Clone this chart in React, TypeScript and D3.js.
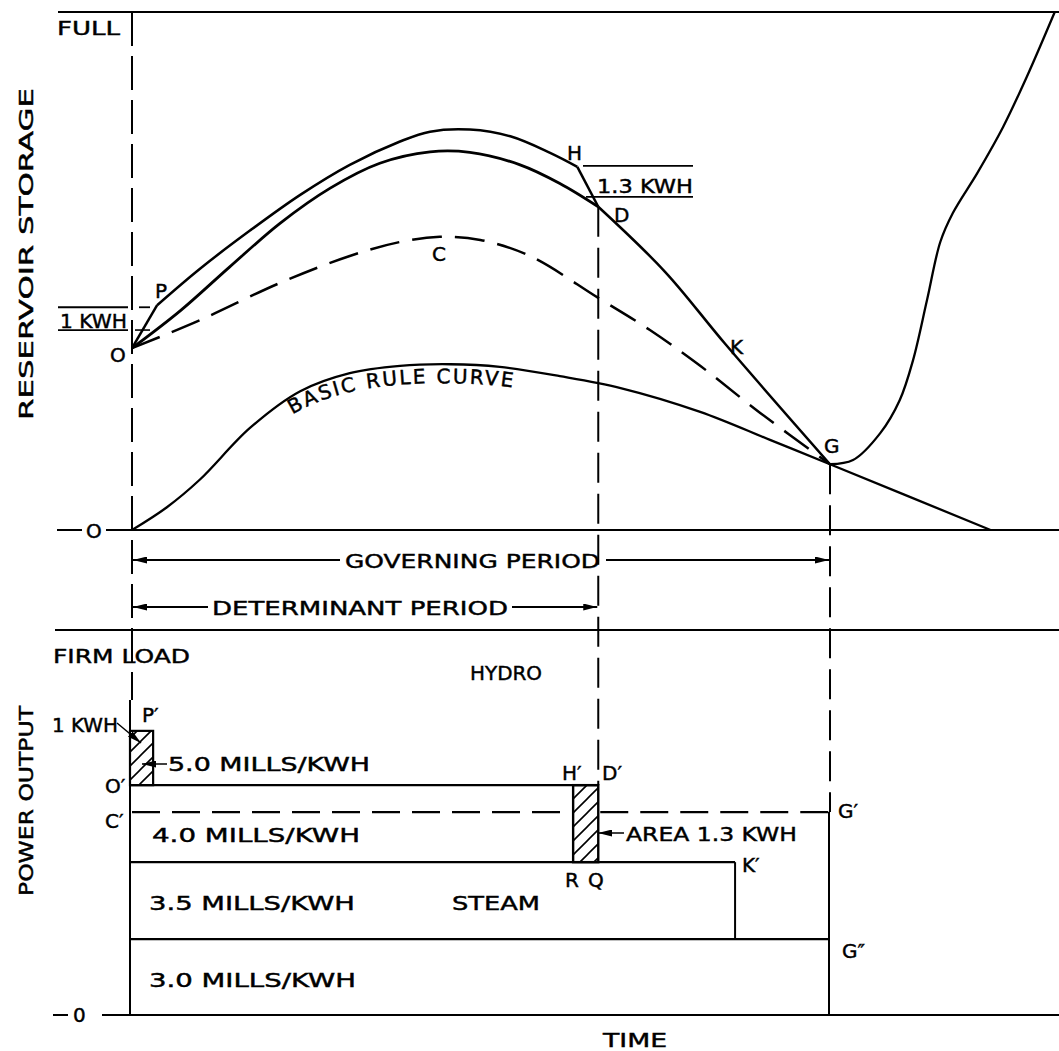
import React, { useEffect, useRef } from 'react';
import * as d3 from 'd3';

// time: O = 0, G = 10 ; storage: 0 = empty, 100 = full ; power: 100 = firm load
const keyTimes = { O: 0, P: 0.36, H: 6.38, Hp: 6.32, D: 6.68, K: 8.64, G: 10 };

const highRise: [number, number][] = [[0, 35.1], [0.36, 43.4]];
const highCurve: [number, number][] = [
  [0.36, 43.4], [0.97, 50.4], [1.69, 57.8], [2.41, 64.7], [3.12, 70.5], [3.84, 75.0],
  [4.27, 76.9], [4.84, 77.3], [5.42, 76.0], [5.99, 72.8], [6.38, 70.1],
];
const highDrop: [number, number][] = [[6.38, 70.1], [6.68, 62.4]];
const midCurve: [number, number][] = [
  [0, 35.1], [0.69, 42.3], [1.4, 50.8], [2.12, 59.2], [2.84, 66.0], [3.55, 70.8],
  [4.27, 73.0], [4.84, 72.9], [5.56, 70.5], [6.13, 66.9], [6.68, 62.4],
];
const fallCurve: [number, number][] = [
  [6.68, 62.4], [7.64, 49.8], [8.5, 35.9], [10, 12.7],
];
const dashedCurve: [number, number][] = [
  [0, 35.1], [0.97, 40.5], [2.12, 47.7], [3.12, 52.9], [3.84, 55.6], [4.41, 56.6],
  [4.99, 56.0], [5.7, 52.9], [6.68, 44.8], [7.42, 38.6], [8.14, 31.7], [9.0, 22.6], [10, 12.7],
];
const basicRule: [number, number][] = [
  [0, 0], [0.5, 4.4], [0.97, 9.7], [1.69, 19.7], [2.41, 26.8], [3.12, 30.3], [3.84, 31.7],
  [4.56, 32.0], [5.27, 31.5], [6.13, 29.7], [7.0, 27.4], [8.14, 22.8], [9.14, 17.4],
  [10, 12.7], [12.3, 0],
];
const refillCurve: [number, number][] = [
  [10, 12.7], [10.33, 13.5], [10.72, 18.7], [11.0, 25.1], [11.19, 32.8], [11.39, 44.4],
  [11.58, 55.6], [11.76, 61.2], [12.11, 68.9], [12.48, 77.8], [12.82, 87.5], [13.22, 100],
];
const oneKwhBand = [38.6, 43.0];   // storage band marked "1 KWH"
const oneThreeBand = [70.3, 64.3]; // storage band marked "1.3 KWH"

// power output levels
const levelBase = 19.7;   // top of 3.0 mills block
const levelSteam = 39.7;  // top of 3.5 mills block (R Q)
const levelC = 52.7;      // C' .. G'
const levelO = 59.7;      // O'
const levelP = 73.8;      // P'
const firmLoad = 100;

const costLabels = ['3.0 MILLS/KWH', '3.5 MILLS/KWH', '4.0 MILLS/KWH', '5.0 MILLS/KWH'];

const App = () => {
  const ref = useRef<SVGSVGElement>(null);

  useEffect(() => {
    const svg = d3.select(ref.current);
    svg.selectAll('*').remove();

    const x = d3.scaleLinear().domain([0, 10]).range([132, 830]);
    const yS = d3.scaleLinear().domain([0, 100]).range([530, 12]);
    const yP = d3.scaleLinear().domain([0, 100]).range([1015, 630]);

    const defs = svg.append('defs');
    defs.append('marker')
      .attr('id', 'arr')
      .attr('viewBox', '0 0 14 7')
      .attr('refX', 14).attr('refY', 3.5)
      .attr('markerWidth', 14).attr('markerHeight', 7)
      .attr('markerUnits', 'userSpaceOnUse')
      .attr('orient', 'auto')
      .append('path').attr('d', 'M0,0 L14,3.5 L0,7 Z').attr('fill', '#000');
    const pat = defs.append('pattern')
      .attr('id', 'hatch')
      .attr('patternUnits', 'userSpaceOnUse')
      .attr('width', 14).attr('height', 14);
    pat.append('path').attr('d', 'M-2,16 L16,-2 M-2,2 L2,-2 M12,16 L16,12')
      .attr('stroke', '#000').attr('stroke-width', 1.6);

    const g = svg.append('g').attr('fill', 'none').attr('stroke', '#000');

    const hline = (y: number, x1: number, x2: number, w = 2, dash?: string) =>
      g.append('line').attr('x1', x1).attr('x2', x2).attr('y1', y).attr('y2', y)
        .attr('stroke-width', w).attr('stroke-dasharray', dash ?? null);
    const vline = (xx: number, y1: number, y2: number, w = 2, dash?: string) =>
      g.append('line').attr('x1', xx).attr('x2', xx).attr('y1', y1).attr('y2', y2)
        .attr('stroke-width', w).attr('stroke-dasharray', dash ?? null);

    // frame lines
    hline(yS(100), 58, 1059);
    hline(yS(0), 57, 82);
    hline(yS(0), 106, 1059);
    hline(yP(firmLoad), 55, 1059);
    hline(yP(0), 53, 68);
    hline(yP(0), 102, 1059);

    // vertical guides
    vline(x(keyTimes.O), yS(100), 700, 2, '34 10');
    vline(x(keyTimes.O) - 2, 700, yP(0), 2);
    vline(x(keyTimes.D), yS(62.4), yP(levelO), 2, '30 11');
    vline(x(keyTimes.G), yS(12.7), yP(levelC), 2, '30 11');
    vline(x(keyTimes.G) - 1, yP(levelC), yP(0), 2);

    // storage curves
    const smooth = d3.line<[number, number]>().x(d => x(d[0])).y(d => yS(d[1]))
      .curve(d3.curveCatmullRom.alpha(0.5));
    const lin = d3.line<[number, number]>().x(d => x(d[0])).y(d => yS(d[1]));
    g.append('path').attr('d', lin(highRise)).attr('stroke-width', 2.5);
    g.append('path').attr('d', smooth(highCurve)).attr('stroke-width', 2.5);
    g.append('path').attr('d', lin(highDrop)).attr('stroke-width', 2.5);
    g.append('path').attr('d', smooth(midCurve)).attr('stroke-width', 2.8);
    g.append('path').attr('d', smooth(fallCurve)).attr('stroke-width', 2.5);
    g.append('path').attr('d', smooth(dashedCurve)).attr('stroke-width', 2.5)
      .attr('stroke-dasharray', '30 13');
    g.append('path').attr('d', smooth(basicRule)).attr('stroke-width', 2.3);
    g.append('path').attr('d', smooth(refillCurve)).attr('stroke-width', 2.3);

    // "1 KWH" band at O
    hline(yS(oneKwhBand[1]), 58, 128, 1.8);
    hline(yS(oneKwhBand[1]), 139, 150, 1.8);
    hline(yS(oneKwhBand[0]), 58, 128, 1.8);
    hline(yS(oneKwhBand[0]), 135, 150, 1.6);
    // "1.3 KWH" band
    hline(yS(oneThreeBand[0]), 583, 693, 1.8);
    hline(yS(oneThreeBand[1]), 586, 693, 1.8);

    // period arrows
    const arrow = (x1: number, x2: number, y: number) =>
      g.append('line').attr('x1', x1).attr('x2', x2).attr('y1', y).attr('y2', y)
        .attr('stroke-width', 1.8).attr('marker-end', 'url(#arr)');
    arrow(340, x(keyTimes.O) + 1, 560);
    arrow(606, x(keyTimes.G) - 1, 560);
    arrow(208, x(keyTimes.O) + 1, 607);
    arrow(512, x(keyTimes.D) - 1, 607);

    // power output blocks
    g.append('rect').attr('x', x(keyTimes.O) - 2).attr('y', yP(levelP))
      .attr('width', x(keyTimes.P) - x(keyTimes.O) - 2).attr('height', yP(levelO) - yP(levelP))
      .attr('fill', 'url(#hatch)').attr('stroke-width', 2.2);
    hline(yP(levelO), x(keyTimes.O) - 2, x(keyTimes.D), 2.4);
    g.append('rect').attr('x', x(keyTimes.Hp)).attr('y', yP(levelO))
      .attr('width', x(keyTimes.D) - x(keyTimes.Hp)).attr('height', yP(levelSteam) - yP(levelO))
      .attr('fill', 'url(#hatch)').attr('stroke-width', 2.4);
    hline(yP(levelC), x(keyTimes.O), x(keyTimes.Hp) - 2, 2.2, '28 12');
    hline(yP(levelC), x(keyTimes.D) + 2, x(keyTimes.G), 2.2, '28 12');
    hline(yP(levelSteam), x(keyTimes.O) - 2, x(keyTimes.K), 2.4);
    vline(x(keyTimes.K), yP(levelSteam), yP(levelBase), 2);
    hline(yP(levelBase), x(keyTimes.O) - 2, x(keyTimes.G), 2.4);

    // pointers
    g.append('line').attr('x1', 117).attr('y1', 723).attr('x2', 141).attr('y2', 743)
      .attr('stroke-width', 1.5).attr('marker-end', 'url(#arr)');
    g.append('line').attr('x1', 167).attr('y1', 764).attr('x2', 142).attr('y2', 764)
      .attr('stroke-width', 1.5).attr('marker-end', 'url(#arr)');
    g.append('line').attr('x1', 624).attr('y1', 833).attr('x2', 598).attr('y2', 833)
      .attr('stroke-width', 1.5).attr('marker-end', 'url(#arr)');

    // text
    const t = svg.append('g')
      .attr('font-family', '"DejaVu Sans", sans-serif')
      .attr('font-size', 20)
      .attr('fill', '#000')
      .attr('stroke', '#000')
      .attr('stroke-width', 0.45);
    const label = (s: string, lx: number, ly: number, len?: number) => {
      const el = t.append('text').attr('x', lx).attr('y', ly).text(s);
      if (len) el.attr('textLength', len).attr('lengthAdjust', 'spacingAndGlyphs');
      return el;
    };

    label('FULL', 57, 35, 63);
    label('1 KWH', 60, 328, 67);
    label('O', 110, 362);
    label('P', 155, 298);
    label('C', 432, 261);
    label('H', 567, 160);
    label('1.3 KWH', 597, 193, 96);
    label('D', 614, 222);
    label('K', 730, 354);
    label('G', 824, 453);
    label('O', 86, 538);
    label('GOVERNING PERIOD', 345, 568, 255);
    label('DETERMINANT PERIOD', 212, 615, 296);

    label('FIRM LOAD', 53, 663, 137);
    label('HYDRO', 470, 680, 72);
    label('1 KWH', 52, 732, 66);
    label('P\u2032', 142, 722);
    label(costLabels[3], 168, 771, 202);
    label('O\u2032', 105, 793);
    label('C\u2032', 105, 828);
    label(costLabels[2], 152, 842, 208);
    label('H\u2032', 562, 780);
    label('D\u2032', 602, 780);
    label('G\u2032', 838, 818);
    label('AREA 1.3 KWH', 626, 841, 171);
    label('R', 565, 887);
    label('Q', 588, 887);
    label('K\u2032', 742, 872);
    label(costLabels[1], 149, 910, 206);
    label('STEAM', 452, 910, 88);
    label('G\u2033', 842, 958);
    label(costLabels[0], 149, 987, 207);
    label('0', 73, 1022);
    label('TIME', 603, 1047, 64);

    t.append('text')
      .attr('transform', 'translate(33,254) rotate(-90)')
      .attr('text-anchor', 'middle')
      .attr('textLength', 332).attr('lengthAdjust', 'spacingAndGlyphs')
      .text('RESERVOIR STORAGE');
    t.append('text')
      .attr('transform', 'translate(33,801) rotate(-90)')
      .attr('text-anchor', 'middle')
      .attr('textLength', 190).attr('lengthAdjust', 'spacingAndGlyphs')
      .text('POWER OUTPUT');

    // curved label under the basic rule curve
    const offsetLine = d3.line<[number, number]>()
      .x(d => x(d[0])).y(d => yS(d[1]) + 19)
      .curve(d3.curveCatmullRom.alpha(0.5));
    const tp = defs.append('path').attr('id', 'ruleText').attr('d', offsetLine(basicRule));
    const node = tp.node() as SVGPathElement;
    let start = 0;
    for (let l = 0; l < node.getTotalLength(); l += 1) {
      if (node.getPointAtLength(l).x >= 292) { start = l; break; }
    }
    t.append('text')
      .attr('letter-spacing', 2.2)
      .append('textPath')
      .attr('href', '#ruleText')
      .attr('startOffset', start)
      .text('BASIC RULE CURVE');
  }, []);

  return (
    <svg
      ref={ref}
      width={1059}
      height={1051}
      style={{ position: 'absolute', left: 0, top: 0, background: '#fff' }}
    />
  );
};

export default App;
